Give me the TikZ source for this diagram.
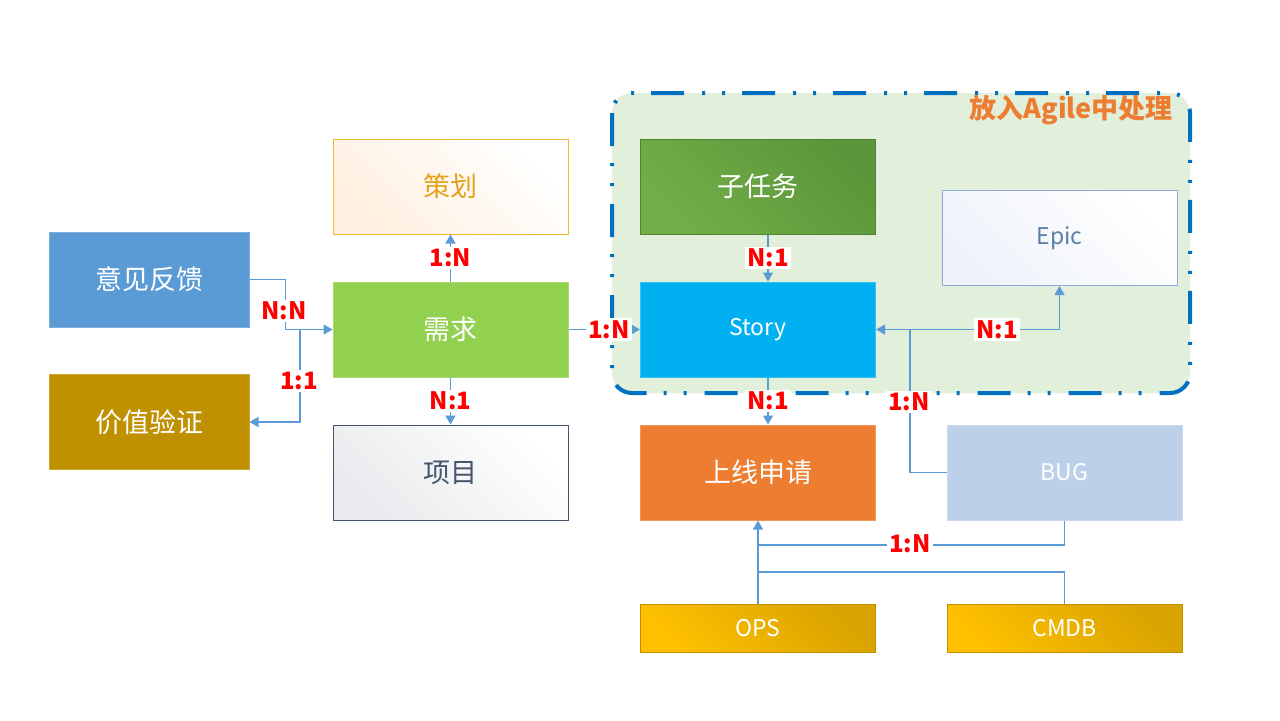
\documentclass[tikz,border=0pt]{standalone}
\usepackage{fontspec}
\setmainfont{Noto Sans CJK SC}
\usetikzlibrary{arrows.meta}
\definecolor{cblue}{HTML}{5B9BD5}
\definecolor{cgoldd}{HTML}{BF9000}
\definecolor{cgreen}{HTML}{92D050}
\definecolor{csky}{HTML}{00B0F0}
\definecolor{corange}{HTML}{ED7D31}
\definecolor{cbug}{HTML}{BDD0EA}
\definecolor{cagile}{HTML}{E2EFDA}
\definecolor{cdash}{HTML}{0070C0}
\definecolor{cslate}{HTML}{44546A}
\definecolor{cepicb}{HTML}{8FAADC}
\definecolor{cepict}{HTML}{5B7EA6}
\definecolor{cplan}{HTML}{E3A21A}
\definecolor{cplanb}{HTML}{F2B92F}
\definecolor{cline}{HTML}{5B9BD5}
\definecolor{czrwa}{HTML}{72AE48}
\definecolor{czrwb}{HTML}{5B973A}
\definecolor{czrwd}{HTML}{548235}
\definecolor{copsa}{HTML}{FFC000}
\definecolor{copsb}{HTML}{D9A300}
\tikzset{
  boxbase/.style={minimum width=117.5pt, minimum height=47.5pt, inner sep=0pt, line width=0.5pt},
  cjk/.style={font=\fontsize{13.5}{15}\selectfont},
  lat/.style={font=\fontsize{11.5}{13}\selectfont},
  solidbox/.style={boxbase, fill=#1, draw=#1!80!white, text=white},
  goldbox/.style={boxbase, minimum height=24pt, draw=cgoldd, left color=copsa, right color=copsb, shading angle=135, text=white, lat},
  conn/.style={draw=cline, line width=0.75pt},
  arr/.style={conn, -{Triangle[width=5pt,length=4.5pt]}},
  lbl/.style={fill=white, text=red, inner sep=1pt, font=\bfseries\fontsize{12}{13}\selectfont}
}
\begin{document}
\begin{tikzpicture}[x=0.5pt,y=-0.5pt]
\useasboundingbox[fill=white] (0,0) rectangle (1280,720);
% Agile area
\draw[draw=cdash, fill=cagile, line width=2pt, rounded corners=10pt,
  dash pattern=on 16.5pt off 8.5pt on 1.5pt off 8.5pt on 1.5pt off 9pt]
  (612,93) rectangle (1190,393);
\node[anchor=east, text=corange, font=\bfseries\fontsize{13.5}{15}\selectfont] (title) at (1180,110) {放入Agile中处理};
% boxes
\node[solidbox=cblue, minimum width=100pt, cjk] (fb) at (149,279.5) {意见反馈};
\node[solidbox=cgoldd, minimum width=100pt, cjk] (jz) at (149,422) {价值验证};
\node[boxbase, draw=cplanb, left color=orange!12!white, right color=white, shading angle=135, text=cplan, cjk] (ch) at (450.5,186.5) {策划};
\node[solidbox=cgreen, cjk] (xq) at (450.5,329.5) {需求};
\node[boxbase, draw=cslate, left color=cslate!12!white, right color=white, shading angle=135, text=cslate, cjk] (xm) at (450.5,472.5) {项目};
\node[boxbase, draw=czrwd, left color=czrwa, right color=czrwb, shading angle=135, text=white, cjk] (zrw) at (758,186.5) {子任务};
\node[solidbox=csky, lat] (story) at (758,329.5) {Story};
\node[solidbox=corange, cjk] (sx) at (758,472.5) {上线申请};
\node[boxbase, draw=cepicb, left color=cepicb!15!white, right color=white, shading angle=135, text=cepict, lat] (epic) at (1059.5,238) {Epic};
\node[solidbox=cbug, lat] (bug) at (1064.5,472.5) {BUG};
\node[goldbox] (ops) at (758,628) {OPS};
\node[goldbox] (cmdb) at (1064.5,628) {CMDB};
% connectors left
\draw[arr] (fb.east) -- ++(36,0) |- (xq.west);
\node[lbl] (lnn) at (284,311) {N:N};
\coordinate (j1) at (300,329.5);
\draw[arr] (j1) |- (jz.east);
\node[lbl] (l11) at (299,381) {1:1};
% 需求
\draw[arr] (xq.north) -- node[lbl] (l1n) {1:N} (ch.south);
\draw[arr] (xq.south) -- node[lbl] (ln1) {N:1} (xm.north);
\draw[arr] (xq.east) -- (story.west);
\node[lbl] (l1nb) at (609,329.5) {1:N};
% Story
\draw[arr] ([xshift=5pt]zrw.south) -- node[lbl] (ln1b) {N:1} ([xshift=5pt]story.north);
\draw[arr] ([xshift=5pt]story.south) -- node[lbl] (ln1c) {N:1} ([xshift=5pt]sx.north);
\coordinate (sj) at (910,329.5);
\draw[arr] (sj) -| (epic.south);
\draw[arr] (bug.west) -| (sj) -- (story.east);
\node[lbl] (ln1d) at (997,329.5) {N:1};
\node[lbl] (l1nc) at (909,402) {1:N};
% bottom
\coordinate (b1) at (758,545);
\coordinate (b2) at (758,572);
\draw[conn] (bug.south) |- (b1);
\draw[conn] (cmdb.north) |- (b2);
\node[lbl] (l1nd) at (910,544) {1:N};
\draw[arr] (ops.north) -- (sx.south);
\end{tikzpicture}
\end{document}
